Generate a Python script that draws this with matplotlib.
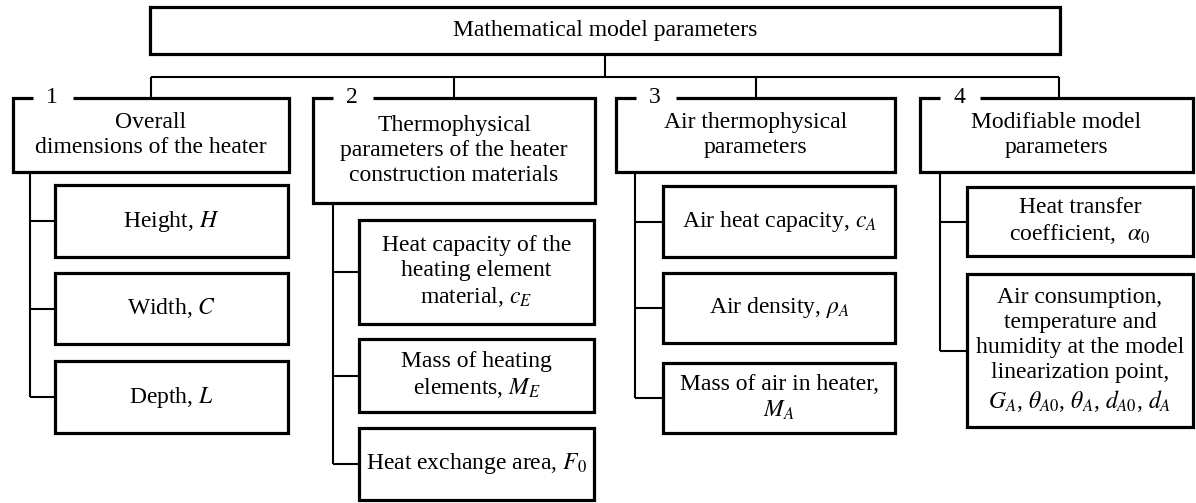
import matplotlib
matplotlib.use("Agg")
import matplotlib.pyplot as plt
from matplotlib.patches import Rectangle

# === Diagram content ===
title = "Mathematical model parameters"
group_nums = ["1", "2", "3", "4"]
group_titles = [
    "Overall\ndimensions of the heater",
    "Thermophysical\nparameters of the heater\nconstruction materials",
    "Air thermophysical\nparameters",
    "Modifiable model\nparameters",
]
children = [
    ["Height, $H$", "Width, $C$", "Depth, $L$"],
    ["Heat capacity of the\nheating element\nmaterial, $c_E$",
     "Mass of heating\nelements, $M_E$",
     "Heat exchange area, $F_0$"],
    ["Air heat capacity, $c_A$", "Air density, $\\rho_A$",
     "Mass of air in heater,\n$M_A$"],
    ["Heat transfer\ncoefficient,  $\\alpha_0$",
     "Air consumption,\ntemperature and\nhumidity at the model\nlinearization point,\n"
     "$G_A$, $\\theta_{A0}$, $\\theta_A$, $d_{A0}$, $d_A$"],
]

# === Layout (pixel units, y grows downward) ===
W, H = 1196, 503
top_box = (150, 7, 1060, 54)
stem_x = 605
bus_y = 77
group_top = 98
group_x = [(13, 289), (313, 595), (616, 895), (920, 1193)]
group_stem = [151, 454, 756, 1059]
group_bottom = [172, 203, 172, 172]
trunk_x = [30, 333, 635, 940]
child_x = [(55, 288), (359, 594), (663, 895), (967, 1193)]
child_y = [
    [(185, 257), (273, 344), (361, 433)],
    [(220, 324), (339, 412), (428, 500)],
    [(186, 257), (273, 343), (363, 433)],
    [(187, 256), (274, 427)],
]

BOX_LW = 2.3
LINE_LW = 1.5
FS = 17
LS = 1.25

plt.rcParams['font.family'] = ['Liberation Serif', 'DejaVu Serif']
plt.rcParams['mathtext.fontset'] = 'stix'

fig = plt.figure(figsize=(W / 100, H / 100), dpi=100)
ax = fig.add_axes([0, 0, 1, 1])
ax.set_xlim(0, W)
ax.set_ylim(H, 0)
ax.axis('off')


def box(x0, y0, x1, y1):
    ax.add_patch(Rectangle((x0, y0), x1 - x0, y1 - y0, fill=False,
                           edgecolor='black', lw=BOX_LW, joinstyle='miter'))


def line(xs, ys, lw=LINE_LW):
    ax.plot(xs, ys, color='black', lw=lw, solid_joinstyle='miter',
            solid_capstyle='butt')


# === Top box and bus ===
box(*top_box)
ax.text((top_box[0] + top_box[2]) / 2, (top_box[1] + top_box[3]) / 2, title,
        ha='center', va='center', fontsize=FS)
line([stem_x, stem_x], [top_box[3], bus_y])
line([group_stem[0], group_stem[-1]], [bus_y, bus_y])

# === Groups ===
for i, (x0, x1) in enumerate(group_x):
    sx = group_stem[i]
    line([sx, sx], [bus_y, group_top])
    yb = group_bottom[i]
    # box outline with a gap in the top edge for the number
    gap0, gap1 = x0 + 20, x0 + 60
    ax.plot([gap0, x0, x0, x1, x1, gap1], [group_top, group_top, yb, yb, group_top, group_top],
            color='black', lw=BOX_LW, solid_joinstyle='miter', solid_capstyle='butt')
    ax.text(x0 + 39, group_top - 1, group_nums[i], ha='center', va='center', fontsize=FS)
    ax.text((x0 + x1) / 2, (group_top + yb) / 2, group_titles[i],
            ha='center', va='center', fontsize=FS, linespacing=LS)

    # children
    tx = trunk_x[i]
    cys = [(a + b) / 2 for a, b in child_y[i]]
    line([tx, tx], [yb, cys[-1]])
    cx0, cx1 = child_x[i]
    for (ya, yb2), cy, lab in zip(child_y[i], cys, children[i]):
        line([tx, cx0], [cy, cy])
        box(cx0, ya, cx1, yb2)
        ax.text((cx0 + cx1) / 2, cy, lab, ha='center', va='center',
                fontsize=FS, linespacing=LS)

fig.savefig("out.png", dpi=100)
